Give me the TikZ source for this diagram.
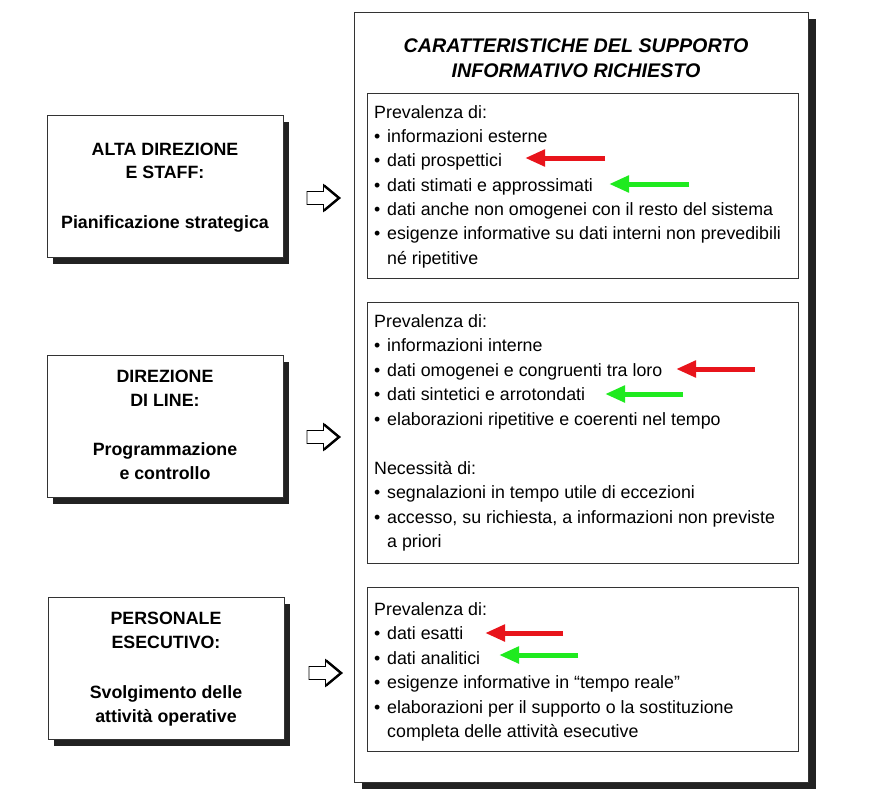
\documentclass[tikz,border=0pt]{standalone}
\usepackage{fontspec}
\setmainfont{Liberation Sans}
\usetikzlibrary{arrows.meta}
\definecolor{shadowc}{HTML}{222222}
\definecolor{redarr}{HTML}{E8141B}
\definecolor{greenarr}{HTML}{1FEA1F}
\tikzset{
  frame/.style={draw=black!80, line width=0.9pt, fill=white},
  shadowbox/.style={fill=shadowc, draw=none},
  txt/.style={anchor=base west, inner sep=0pt, font=\fontsize{17.8}{20}\selectfont},
  ltxt/.style={anchor=base, inner sep=0pt, font=\fontsize{17.8}{20}\selectfont\bfseries},
  ttl/.style={anchor=base, inner sep=0pt, font=\fontsize{19.7}{22}\selectfont\bfseries\itshape},
  redarrow/.style={draw=redarr, line width=5pt, -{Triangle[length=20pt,width=16pt]}},
  greenarrow/.style={draw=greenarr, line width=5pt, -{Triangle[length=20pt,width=16pt]}},
  blockarrow/.style={draw=black, line width=0.8pt, fill=white, line join=miter},
  headedge/.style={draw=black, line width=2.4pt, line join=miter}
}
\newcommand{\bl}[3]{\node[txt] (#1) at (374,#2) {\makebox[13pt][l]{•}#3};}
\newcommand{\cl}[3]{\node[txt] (#1) at (387,#2) {#3};}
\newcommand{\barrow}[2]{%
  \draw[blockarrow] (#1,#2-6.5) -- (#1+16.5,#2-6.5) -- (#1+16.5,#2-13.5) -- (#1+33,#2) -- (#1+16.5,#2+13.5) -- (#1+16.5,#2+6.5) -- (#1,#2+6.5) -- cycle;
  \draw[headedge] (#1+17,#2-12.5) -- (#1+32,#2) -- (#1+17,#2+12.5);}
\begin{document}
\begin{tikzpicture}[x=1pt,y=-1pt]
\useasboundingbox (0,0) rectangle (874,793);
\fill[white] (0,0) rectangle (874,793);

% outer big box
\fill[shadowbox] (362,19) rectangle (816,789);
\node[frame, minimum width=454pt, minimum height=770pt, anchor=north west, inner sep=0pt] (outer) at (354,12) {};
\node[ttl] (t1) at (576,52) {CARATTERISTICHE DEL SUPPORTO};
\node[ttl] (t2) at (576,77) {INFORMATIVO RICHIESTO};

% inner boxes
\node[frame, line width=0.8pt, minimum width=431pt, minimum height=185pt, anchor=north west, inner sep=0pt] (in1) at (367,93) {};
\node[frame, line width=0.8pt, minimum width=431pt, minimum height=261pt, anchor=north west, inner sep=0pt] (in2) at (367,302) {};
\node[frame, line width=0.8pt, minimum width=431pt, minimum height=164pt, anchor=north west, inner sep=0pt] (in3) at (367,587) {};

% box 1 text
\node[txt] (a0) at (374,118) {Prevalenza di:};
\bl{a1}{142}{informazioni esterne}
\bl{a2}{166.5}{dati prospettici}
\bl{a3}{191}{dati stimati e approssimati}
\bl{a4}{215}{dati anche non omogenei con il resto del sistema}
\bl{a5}{239.5}{esigenze informative su dati interni non prevedibili}
\cl{a6}{264}{né ripetitive}

% box 2 text
\node[txt] (b0) at (374,327) {Prevalenza di:};
\bl{b1}{351.5}{informazioni interne}
\bl{b2}{376}{dati omogenei e congruenti tra loro}
\bl{b3}{400.5}{dati sintetici e arrotondati}
\bl{b4}{425}{elaborazioni ripetitive e coerenti nel tempo}
\node[txt] (b5) at (374,474) {Necessità di:};
\bl{b6}{498.5}{segnalazioni in tempo utile di eccezioni}
\bl{b7}{523}{accesso, su richiesta, a informazioni non previste}
\cl{b8}{547.5}{a priori}

% box 3 text
\node[txt] (c0) at (374,615) {Prevalenza di:};
\bl{c1}{639.5}{dati esatti}
\bl{c2}{664}{dati analitici}
\bl{c3}{688.5}{esigenze informative in “tempo reale”}
\bl{c4}{713}{elaborazioni per il supporto o la sostituzione}
\cl{c5}{737}{completa delle attività esecutive}

% coloured arrows
\coordinate (ra1) at (605,158); \coordinate (ra1t) at (525,158);
\coordinate (ga1) at (689,184); \coordinate (ga1t) at (609,184);
\coordinate (ra2) at (755,369); \coordinate (ra2t) at (676,369);
\coordinate (ga2) at (683,394); \coordinate (ga2t) at (605,394);
\coordinate (ra3) at (563,633); \coordinate (ra3t) at (485,633);
\coordinate (ga3) at (578,655); \coordinate (ga3t) at (499,655);
\draw[redarrow] (ra1) -- (ra1t);
\draw[greenarrow] (ga1) -- (ga1t);
\draw[redarrow] (ra2) -- (ra2t);
\draw[greenarrow] (ga2) -- (ga2t);
\draw[redarrow] (ra3) -- (ra3t);
\draw[greenarrow] (ga3) -- (ga3t);

% left boxes
\fill[shadowbox] (53,122) rectangle (289,264);
\node[frame, minimum width=236pt, minimum height=142pt, anchor=north west, inner sep=0pt] (L1) at (47,115) {};
\node[ltxt] (L1a) at (165,155) {ALTA DIREZIONE};
\node[ltxt] (L1b) at (165,178.5) {E STAFF:};
\node[ltxt] (L1c) at (165,228) {Pianificazione strategica};

\fill[shadowbox] (53,362) rectangle (289,504);
\node[frame, minimum width=236pt, minimum height=142pt, anchor=north west, inner sep=0pt] (L2) at (47,355) {};
\node[ltxt] (L2a) at (165,382) {DIREZIONE};
\node[ltxt] (L2b) at (165,406.5) {DI LINE:};
\node[ltxt] (L2c) at (165,455) {Programmazione};
\node[ltxt] (L2d) at (165,479.5) {e controllo};

\fill[shadowbox] (54,604) rectangle (290,746);
\node[frame, minimum width=236pt, minimum height=142pt, anchor=north west, inner sep=0pt] (L3) at (48,597) {};
\node[ltxt] (L3a) at (166,624) {PERSONALE};
\node[ltxt] (L3b) at (166,648.5) {ESECUTIVO:};
\node[ltxt] (L3c) at (166,698) {Svolgimento delle};
\node[ltxt] (L3d) at (166,722.5) {attività operative};

% block arrows
\barrow{307}{198}
\barrow{307}{437}
\barrow{309}{673}
\end{tikzpicture}
\end{document}
